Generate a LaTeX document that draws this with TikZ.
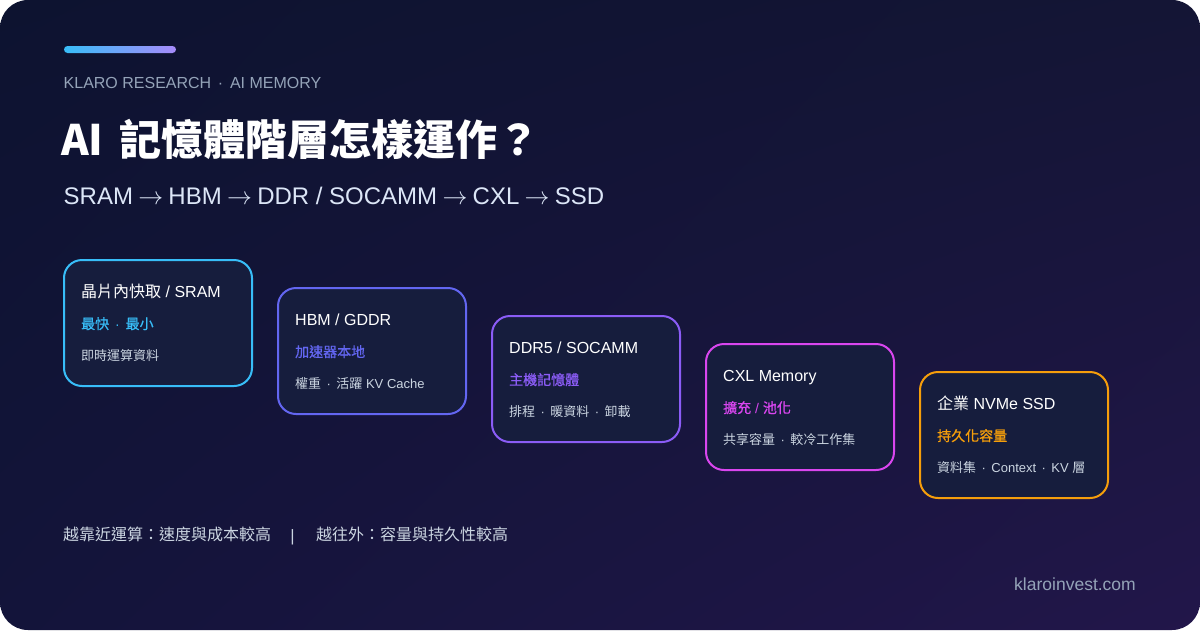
\documentclass[tikz,border=0pt]{standalone}
\usepackage{fontspec}
\setmainfont{Liberation Sans}
\newfontfamily\cjkfont{Noto Sans CJK TC}
\newfontfamily\cjkmed[FakeBold=0.9]{Noto Sans CJK TC}
\newcommand{\cj}[1]{{\cjkfont #1}}
\newcommand{\cm}[1]{{\cjkmed #1}}
\newcommand{\dt}{\hspace{0.42em}·\hspace{0.42em}}
\newcommand{\ar}{\hspace{0.22em}$\rightarrow$\hspace{0.22em}}
\usetikzlibrary{calc,shadings}
\definecolor{bgTL}{HTML}{0D1330}
\definecolor{bgTR}{HTML}{141535}
\definecolor{bgBL}{HTML}{13143A}
\definecolor{bgBR}{HTML}{22164A}
\definecolor{boxfill}{HTML}{161D3D}
\definecolor{cSram}{HTML}{38BDF8}
\definecolor{cHbm}{HTML}{6366F1}
\definecolor{cDdr}{HTML}{8B5CF6}
\definecolor{cCxl}{HTML}{D946EF}
\definecolor{cSsd}{HTML}{F59E0B}
\definecolor{barR}{HTML}{A78BFA}
\definecolor{muted}{HTML}{94A3B8}
\definecolor{soft}{HTML}{CBD5E1}
\definecolor{subt}{HTML}{DCE6F7}
\newcommand{\fs}[1]{\fontsize{#1}{#1}\selectfont}
\tikzset{
  tier/.style={draw, line width=2pt, fill=boxfill, rounded corners=18pt,
    minimum width=188pt, minimum height=126pt, inner sep=0pt},
  ttl/.style={anchor=base west, inner sep=0pt, text=white, font=\fs{16}},
  tag/.style={anchor=base west, inner sep=0pt, font=\fs{14}},
  note/.style={anchor=base west, inner sep=0pt, text=soft, font=\fs{13}},
  txt/.style={anchor=base west, inner sep=0pt},
}
\begin{document}
\begin{tikzpicture}[x=1pt,y=-1pt]
\useasboundingbox (0,0) rectangle (1200,630);
\fill[white] (0,0) rectangle (1200,630);
\shade[rounded corners=28pt, upper left=bgTL, upper right=bgTR, lower left=bgBL, lower right=bgBR]
  (0,0) rectangle (1200,630);
% header bar
\shade[rounded corners=3.5pt, left color=cSram, right color=barR] (64,46) rectangle (176,53);
\node[txt, text=muted, font=\fs{16}] (kicker) at (63.5,88) {KLARO RESEARCH\dt AI MEMORY};
\node[txt, text=white, font=\fs{42}\cjkfont\bfseries] (titleA) at (61,155) {AI};
\node[txt, text=white, font=\fs{42}\cjkfont\bfseries] (titleB) at (119.5,155) {記憶體階層怎樣運作？};
\node[txt, text=subt, font=\fs{24}] (chain) at (63.5,204) {SRAM\ar HBM\ar DDR / SOCAMM\ar CXL\ar SSD};
% tiers
\node[tier, draw=cSram] (b1) at (158,323) {};
\node[tier, draw=cHbm]  (b2) at (372,351) {};
\node[tier, draw=cDdr]  (b3) at (586,379) {};
\node[tier, draw=cCxl]  (b4) at (800,407) {};
\node[tier, draw=cSsd]  (b5) at (1014,435) {};
\node[ttl] (t1) at ($(b1.north west)+(18,38)$) {\cj{晶片內快取} / SRAM};
\node[tag, text=cSram] (g1) at ($(b1.north west)+(18,70)$) {\cm{最快}\dt\cm{最小}};
\node[note] (n1) at ($(b1.north west)+(18,101)$) {\cj{即時運算資料}};
\node[ttl] (t2) at ($(b2.north west)+(18,38)$) {HBM / GDDR};
\node[tag, text=cHbm] (g2) at ($(b2.north west)+(18,70)$) {\cm{加速器本地}};
\node[note] (n2) at ($(b2.north west)+(18,101)$) {\cj{權重}\dt\cj{活躍} KV Cache};
\node[ttl] (t3) at ($(b3.north west)+(18,38)$) {DDR5 / SOCAMM};
\node[tag, text=cDdr] (g3) at ($(b3.north west)+(18,70)$) {\cm{主機記憶體}};
\node[note] (n3) at ($(b3.north west)+(18,101)$) {\cj{排程}\dt\cj{暖資料}\dt\cj{卸載}};
\node[ttl] (t4) at ($(b4.north west)+(18,38)$) {CXL Memory};
\node[tag, text=cCxl] (g4) at ($(b4.north west)+(18,70)$) {\cm{擴充} / \cm{池化}};
\node[note] (n4) at ($(b4.north west)+(18,101)$) {\cj{共享容量}\dt\cj{較冷工作集}};
\node[ttl] (t5) at ($(b5.north west)+(18,38)$) {\cj{企業} NVMe SSD};
\node[tag, text=cSsd] (g5) at ($(b5.north west)+(18,70)$) {\cm{持久化容量}};
\node[note] (n5) at ($(b5.north west)+(18,101)$) {\cj{資料集}\dt Context\dt KV \cj{層}};
% footer
\node[txt, text=soft, font=\fs{16}\cjkfont] (f1) at (63,540) {越靠近運算：速度與成本較高};
\node[anchor=base, inner sep=0pt, text=soft, font=\fs{16.5}] (sep) at (292.5,541) {|};
\node[txt, text=soft, font=\fs{16}\cjkfont] (f2) at (316,540) {越往外：容量與持久性較高};
\node[anchor=base east, inner sep=0pt, text=muted, font=\fs{17.5}] (site) at (1136,590) {klaroinvest.com};
\end{tikzpicture}
\end{document}
